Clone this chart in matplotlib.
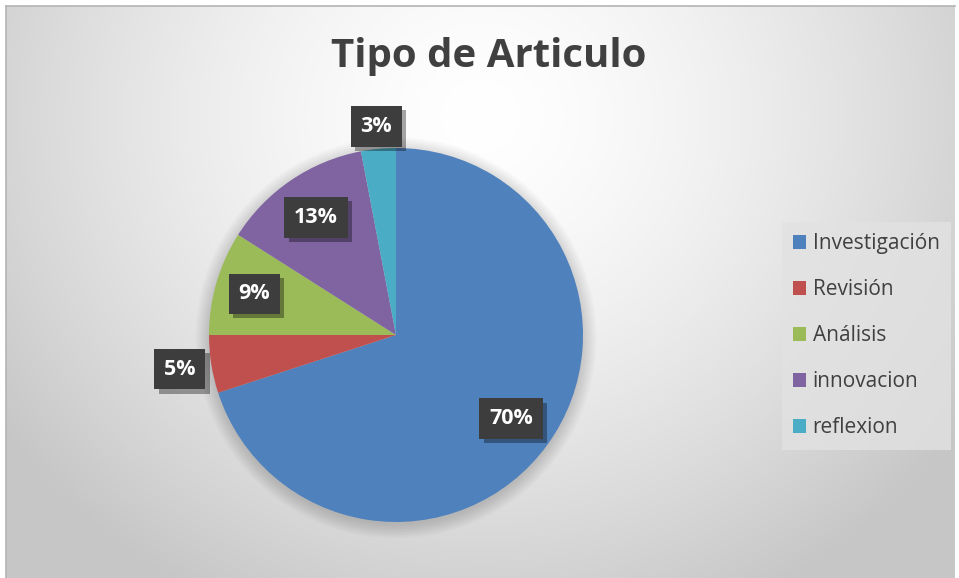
import matplotlib
matplotlib.use('Agg')
import matplotlib.pyplot as plt
import matplotlib.patheffects as pe
from matplotlib.patches import Circle
import numpy as np

# datos del grafico
categorias = ['Investigación', 'Revisión', 'Análisis', 'innovacion', 'reflexion']
valores = [70, 5, 9, 13, 3]
colores = ['#4F81BD', '#C0504D', '#9BBB59', '#8064A2', '#4BACC6']
titulo = 'Tipo de Articulo'

W, H = 959, 578
fig = plt.figure(figsize=(W / 100, H / 100), dpi=100, facecolor='white')

# fondo con degradado radial
bg = fig.add_axes([6 / W, 0, (955 - 6) / W, (578 - 6) / H])
yy, xx = np.mgrid[0:572, 0:949]
d = np.sqrt(((xx - 474) / 580.0) ** 2 + ((yy - 110) / 540.0) ** 2)
v = 1 - 0.22 * np.clip(d, 0, 1.0) ** 1.5
bg.imshow(np.dstack([v, v, v]), aspect='auto', extent=[0, 1, 0, 1], interpolation='bilinear')
bg.set_xlim(0, 1)
bg.set_ylim(0, 1)
bg.set_xticks([])
bg.set_yticks([])
for s in ['right', 'bottom']:
    bg.spines[s].set_visible(False)
for s in ['top', 'left']:
    bg.spines[s].set_color('#b4b4b4')
    bg.spines[s].set_linewidth(1.2)

fig.text(489 / W, 1 - 57 / H, titulo, ha='center', va='center', fontsize=29,
         fontweight='bold', color='#404040', family=['Open Sans', 'DejaVu Sans'])

# pastel
R_PX = 187.0
lim = 1.3
side = 2 * lim * R_PX
cx, cy = 396, 578 - 335
ax = fig.add_axes([(cx - side / 2) / W, (cy - side / 2) / H, side / W, side / H])

# sombra suave
for i in range(10):
    ax.add_patch(Circle((0.0, -0.015), 1 + 0.008 * i, color='black', alpha=0.015, lw=0, zorder=0))

wedges, _ = ax.pie(valores, colors=colores, startangle=90, counterclock=False, radius=1,
                   wedgeprops=dict(linewidth=0))
for w in wedges:
    w.set_zorder(2)
ax.set_xlim(-lim, lim)
ax.set_ylim(-lim, lim)
ax.axis('off')

dist_etiquetas = [0.76, 1.17, 0.79, 0.76, 1.12]
total = float(sum(valores))
ang0 = 90.0
for val, r in zip(valores, dist_etiquetas):
    frac = val / total
    mid = np.deg2rad(ang0 - frac * 360 / 2)
    ang0 -= frac * 360
    t = ax.text(r * np.cos(mid), r * np.sin(mid), '%d%%' % round(frac * 100),
                ha='center', va='center', color='white', fontsize=15.5, fontweight='bold',
                family=['Open Sans', 'DejaVu Sans'], zorder=5,
                bbox=dict(boxstyle='square,pad=0.45', fc='#3d3d3d', ec='none'))
    t.get_bbox_patch().set_path_effects([pe.withSimplePatchShadow(offset=(3, -3), alpha=0.35,
                                                                   shadow_rgbFace='black')])

leg = fig.legend(wedges, categorias, loc='upper left', bbox_to_anchor=(782 / W, 1 - 222 / H),
                 frameon=True, fancybox=False, labelspacing=1.2,
                 handlelength=0.62, handleheight=0.62, handletextpad=0.3, borderpad=0.55,
                 borderaxespad=0,
                 prop={'family': ['Open Sans', 'DejaVu Sans'], 'size': 15})
leg.get_frame().set_facecolor('#e2e2e2')
leg.get_frame().set_edgecolor('none')
leg.get_frame().set_alpha(0.8)
for txt in leg.get_texts():
    txt.set_color('#404040')

fig.savefig('out.png', dpi=100, facecolor='white')
